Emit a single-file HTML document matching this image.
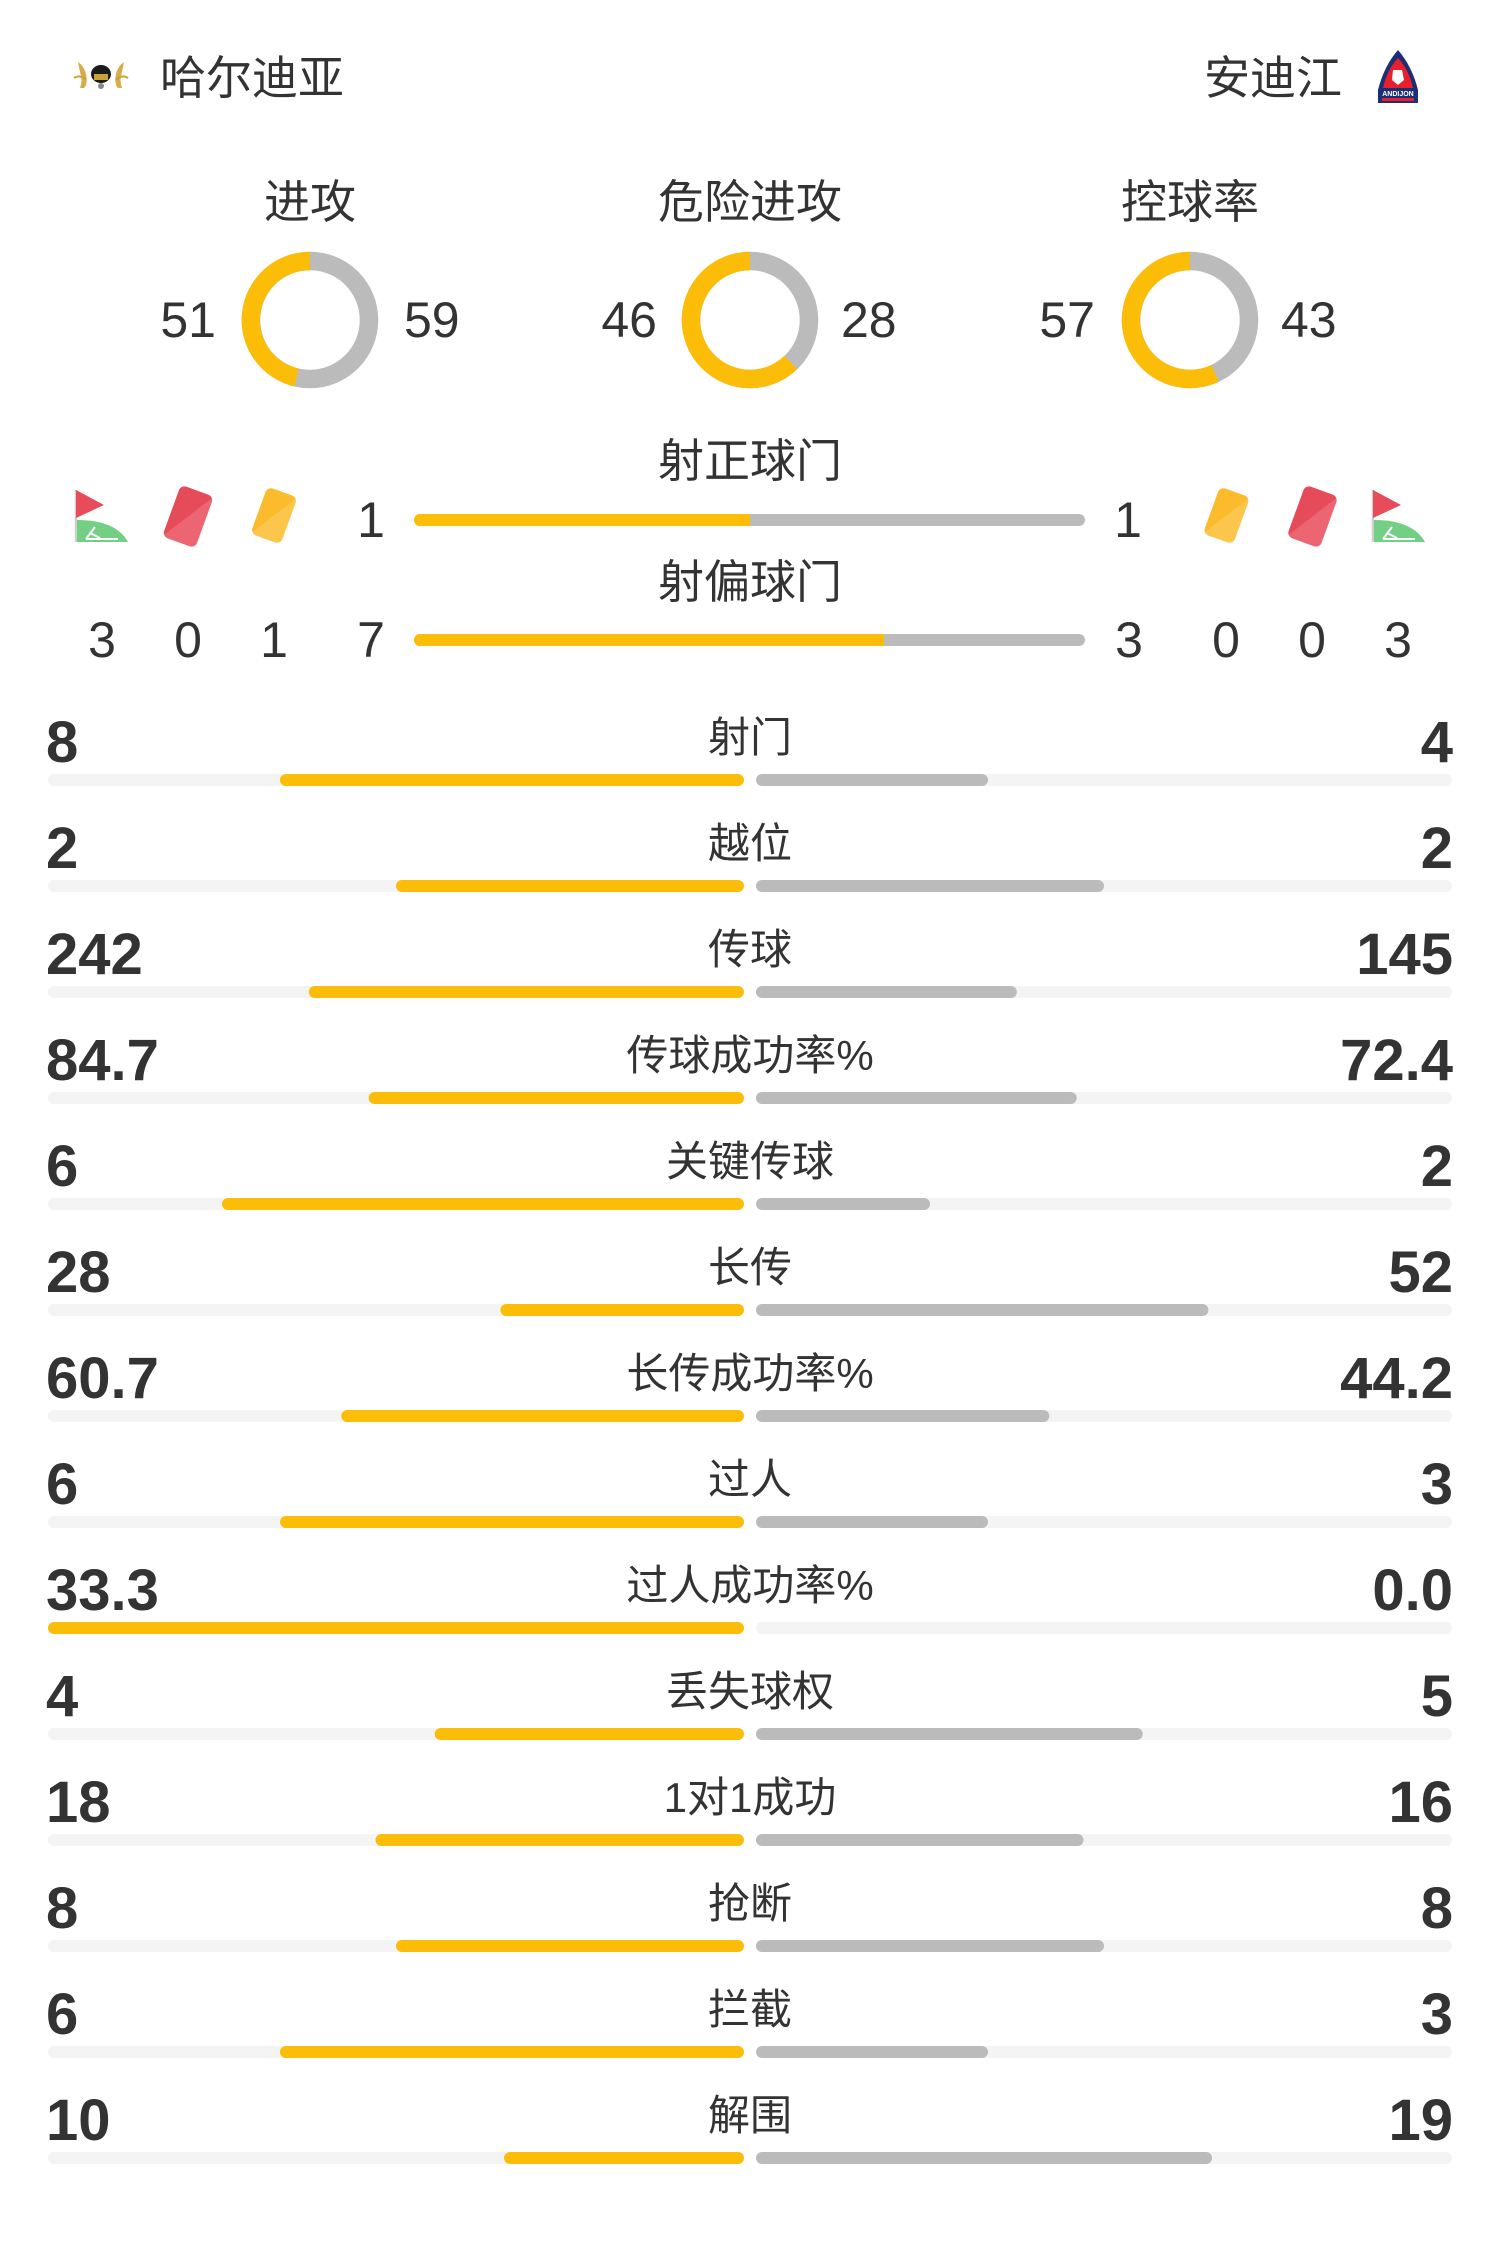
<!DOCTYPE html>
<html>
<head>
<meta charset="utf-8">
<style>
html,body{margin:0;padding:0;background:#fff;}
svg{display:block;}
text{font-family:"Liberation Sans","Noto Sans CJK SC",sans-serif;fill:#333;}
.b{font-weight:bold;font-size:58px;}
.l{font-size:42px;}
.t{font-size:46px;}
.n{font-size:50px;}
</style>
</head>
<body>
<svg width="1500" height="2244" viewBox="0 0 1500 2244" xmlns="http://www.w3.org/2000/svg">
<defs>
<linearGradient id="rg" x1="0" y1="0" x2="1" y2="1">
<stop offset="0.5" stop-color="#e64b5a"/><stop offset="0.5" stop-color="#eb6573"/>
</linearGradient>
<linearGradient id="yg" x1="0" y1="0" x2="1" y2="1">
<stop offset="0.5" stop-color="#fbbb2c"/><stop offset="0.5" stop-color="#fcc64d"/>
</linearGradient>
<g id="flag">
<line x1="76" y1="490" x2="76" y2="542" stroke="#cfcfcf" stroke-width="2.5"/>
<path d="M76,490 L104,505 L76,518 Z" fill="#e84c5a"/>
<path d="M77,542 L77,520 Q116,520 128,542 Z" fill="#72cf84"/>
<path d="M86,539 L118,539 M86,539 L95,527 M90,533 L100,538" stroke="#fff" stroke-width="2" fill="none"/>
</g>
<g id="rcard"><rect x="-17.5" y="-27.5" width="35" height="55" rx="6" fill="url(#rg)"/></g>
<g id="ycard"><rect x="-16" y="-25" width="32" height="50" rx="6" fill="url(#yg)"/></g>
</defs>

<!-- Header -->
<g>
<ellipse cx="101" cy="74" rx="10" ry="9" fill="#1b1b1b"/>
<rect x="94" y="74" width="14" height="6" fill="#c9a23a"/>
<path d="M78,62 Q84,66 86,74 Q88,84 84,88 L80,88 Q83,80 80,72 Z" fill="#d6ad4a"/>
<path d="M124,62 Q118,66 116,74 Q114,84 118,88 L122,88 Q119,80 122,72 Z" fill="#d6ad4a"/>
<path d="M74,78 Q80,74 86,80" stroke="#c9a23a" stroke-width="2" fill="none"/>
<path d="M128,78 Q122,74 116,80" stroke="#c9a23a" stroke-width="2" fill="none"/>
<circle cx="101" cy="86" r="3" fill="#888"/>
</g>
<text class="t" x="160" y="94">哈尔迪亚</text>
<text class="t" x="1342" y="94" text-anchor="end">安迪江</text>
<g>
<path d="M1398,50 Q1412,66 1418,90 L1418,103 L1378,103 L1378,90 Q1384,66 1398,50 Z" fill="#1c2f74"/>
<path d="M1398,58 Q1409,70 1413,88 L1383,88 Q1387,70 1398,58 Z" fill="#e8202b"/>
<path d="M1393,70 L1402,70 L1404,80 L1398,85 L1392,80 Z" fill="#fff"/>
<text x="1398" y="96" text-anchor="middle" style="font-size:7px;font-weight:bold;fill:#fff;">ANDIJON</text>
<rect x="1382" y="98" width="32" height="3" fill="#e8202b"/>
</g>

<!-- Circle section -->
<text class="t" x="310" y="218" text-anchor="middle">进攻</text>
<text class="t" x="750" y="218" text-anchor="middle">危险进攻</text>
<text class="t" x="1190" y="218" text-anchor="middle">控球率</text>

<circle cx="310" cy="320" r="59" fill="none" stroke="#bbbbbb" stroke-width="18.5"/>
<path d="M310,261 A59,59 0 0 0 296.6,377.5" fill="none" stroke="#fcbd08" stroke-width="18.5"/>
<circle cx="750" cy="320" r="59" fill="none" stroke="#bbbbbb" stroke-width="18.5"/>
<path d="M750,261 A59,59 0 1 0 790.8,362.6" fill="none" stroke="#fcbd08" stroke-width="18.5"/>
<circle cx="1190" cy="320" r="59" fill="none" stroke="#bbbbbb" stroke-width="18.5"/>
<path d="M1190,261 A59,59 0 1 0 1215.1,373.4" fill="none" stroke="#fcbd08" stroke-width="18.5"/>

<text class="n" x="216" y="337" text-anchor="end">51</text>
<text class="n" x="404" y="337">59</text>
<text class="n" x="657" y="337" text-anchor="end">46</text>
<text class="n" x="841" y="337">28</text>
<text class="n" x="1095" y="337" text-anchor="end">57</text>
<text class="n" x="1281" y="337">43</text>

<!-- Shots on/off target -->
<text class="t" x="750" y="477" text-anchor="middle">射正球门</text>
<rect x="414" y="514" width="671" height="12" rx="6" fill="#bbbbbb"/>
<rect x="414" y="514" width="336" height="12" rx="6" fill="#fcbd08"/>
<rect x="740" y="514" width="10" height="12" fill="#fcbd08"/>

<text class="t" x="750" y="598" text-anchor="middle">射偏球门</text>
<rect x="414" y="634" width="671" height="12" rx="6" fill="#bbbbbb"/>
<rect x="414" y="634" width="470" height="12" rx="6" fill="#fcbd08"/>
<rect x="874" y="634" width="10" height="12" fill="#fcbd08"/>

<use href="#flag"/>
<use href="#rcard" transform="translate(188,516.5) rotate(20)"/>
<use href="#ycard" transform="translate(274,515.5) rotate(20)"/>
<text class="n" x="371" y="537" text-anchor="middle">1</text>
<text class="n" x="1128" y="537" text-anchor="middle">1</text>
<use href="#ycard" transform="translate(1226.5,515.5) rotate(20)"/>
<use href="#rcard" transform="translate(1312.5,516.5) rotate(20)"/>
<use href="#flag" transform="translate(1297,0)"/>

<text class="n" x="102" y="657" text-anchor="middle">3</text>
<text class="n" x="188" y="657" text-anchor="middle">0</text>
<text class="n" x="274" y="657" text-anchor="middle">1</text>
<text class="n" x="371" y="657" text-anchor="middle">7</text>
<text class="n" x="1129" y="657" text-anchor="middle">3</text>
<text class="n" x="1226" y="657" text-anchor="middle">0</text>
<text class="n" x="1312" y="657" text-anchor="middle">0</text>
<text class="n" x="1398" y="657" text-anchor="middle">3</text>

<!-- Stats rows -->
<g id="rows">
<!-- row 0 y=780 -->
<text class="b" x="46" y="762">8</text><text class="l" x="750" y="752" text-anchor="middle">射门</text><text class="b" x="1453" y="762" text-anchor="end">4</text>
<rect x="48" y="774" width="696" height="12" rx="6" fill="#f4f4f4"/><rect x="756" y="774" width="696" height="12" rx="6" fill="#f4f4f4"/>
<rect x="280" y="774" width="464" height="12" rx="6" fill="#fcbd08"/><rect x="756" y="774" width="232" height="12" rx="6" fill="#bbbbbb"/>

<!-- row 1 y=886 -->
<text class="b" x="46" y="868">2</text><text class="l" x="750" y="858" text-anchor="middle">越位</text><text class="b" x="1453" y="868" text-anchor="end">2</text>
<rect x="48" y="880" width="696" height="12" rx="6" fill="#f4f4f4"/><rect x="756" y="880" width="696" height="12" rx="6" fill="#f4f4f4"/>
<rect x="396" y="880" width="348" height="12" rx="6" fill="#fcbd08"/><rect x="756" y="880" width="348" height="12" rx="6" fill="#bbbbbb"/>

<!-- row 2 y=992 -->
<text class="b" x="46" y="974">242</text><text class="l" x="750" y="964" text-anchor="middle">传球</text><text class="b" x="1453" y="974" text-anchor="end">145</text>
<rect x="48" y="986" width="696" height="12" rx="6" fill="#f4f4f4"/><rect x="756" y="986" width="696" height="12" rx="6" fill="#f4f4f4"/>
<rect x="308.8" y="986" width="435.2" height="12" rx="6" fill="#fcbd08"/><rect x="756" y="986" width="260.8" height="12" rx="6" fill="#bbbbbb"/>

<!-- row 3 y=1098 -->
<text class="b" x="46" y="1080">84.7</text><text class="l" x="750" y="1070" text-anchor="middle">传球成功率%</text><text class="b" x="1453" y="1080" text-anchor="end">72.4</text>
<rect x="48" y="1092" width="696" height="12" rx="6" fill="#f4f4f4"/><rect x="756" y="1092" width="696" height="12" rx="6" fill="#f4f4f4"/>
<rect x="368.7" y="1092" width="375.3" height="12" rx="6" fill="#fcbd08"/><rect x="756" y="1092" width="320.7" height="12" rx="6" fill="#bbbbbb"/>

<!-- row 4 y=1204 -->
<text class="b" x="46" y="1186">6</text><text class="l" x="750" y="1176" text-anchor="middle">关键传球</text><text class="b" x="1453" y="1186" text-anchor="end">2</text>
<rect x="48" y="1198" width="696" height="12" rx="6" fill="#f4f4f4"/><rect x="756" y="1198" width="696" height="12" rx="6" fill="#f4f4f4"/>
<rect x="222" y="1198" width="522" height="12" rx="6" fill="#fcbd08"/><rect x="756" y="1198" width="174" height="12" rx="6" fill="#bbbbbb"/>

<!-- row 5 y=1310 -->
<text class="b" x="46" y="1292">28</text><text class="l" x="750" y="1282" text-anchor="middle">长传</text><text class="b" x="1453" y="1292" text-anchor="end">52</text>
<rect x="48" y="1304" width="696" height="12" rx="6" fill="#f4f4f4"/><rect x="756" y="1304" width="696" height="12" rx="6" fill="#f4f4f4"/>
<rect x="500.4" y="1304" width="243.6" height="12" rx="6" fill="#fcbd08"/><rect x="756" y="1304" width="452.4" height="12" rx="6" fill="#bbbbbb"/>

<!-- row 6 y=1416 -->
<text class="b" x="46" y="1398">60.7</text><text class="l" x="750" y="1388" text-anchor="middle">长传成功率%</text><text class="b" x="1453" y="1398" text-anchor="end">44.2</text>
<rect x="48" y="1410" width="696" height="12" rx="6" fill="#f4f4f4"/><rect x="756" y="1410" width="696" height="12" rx="6" fill="#f4f4f4"/>
<rect x="341.3" y="1410" width="402.7" height="12" rx="6" fill="#fcbd08"/><rect x="756" y="1410" width="293.3" height="12" rx="6" fill="#bbbbbb"/>

<!-- row 7 y=1522 -->
<text class="b" x="46" y="1504">6</text><text class="l" x="750" y="1494" text-anchor="middle">过人</text><text class="b" x="1453" y="1504" text-anchor="end">3</text>
<rect x="48" y="1516" width="696" height="12" rx="6" fill="#f4f4f4"/><rect x="756" y="1516" width="696" height="12" rx="6" fill="#f4f4f4"/>
<rect x="280" y="1516" width="464" height="12" rx="6" fill="#fcbd08"/><rect x="756" y="1516" width="232" height="12" rx="6" fill="#bbbbbb"/>

<!-- row 8 y=1628 -->
<text class="b" x="46" y="1610">33.3</text><text class="l" x="750" y="1600" text-anchor="middle">过人成功率%</text><text class="b" x="1453" y="1610" text-anchor="end">0.0</text>
<rect x="48" y="1622" width="696" height="12" rx="6" fill="#f4f4f4"/><rect x="756" y="1622" width="696" height="12" rx="6" fill="#f4f4f4"/>
<rect x="48" y="1622" width="696" height="12" rx="6" fill="#fcbd08"/>

<!-- row 9 y=1734 -->
<text class="b" x="46" y="1716">4</text><text class="l" x="750" y="1706" text-anchor="middle">丢失球权</text><text class="b" x="1453" y="1716" text-anchor="end">5</text>
<rect x="48" y="1728" width="696" height="12" rx="6" fill="#f4f4f4"/><rect x="756" y="1728" width="696" height="12" rx="6" fill="#f4f4f4"/>
<rect x="434.7" y="1728" width="309.3" height="12" rx="6" fill="#fcbd08"/><rect x="756" y="1728" width="386.7" height="12" rx="6" fill="#bbbbbb"/>

<!-- row 10 y=1840 -->
<text class="b" x="46" y="1822">18</text><text class="l" x="750" y="1812" text-anchor="middle">1对1成功</text><text class="b" x="1453" y="1822" text-anchor="end">16</text>
<rect x="48" y="1834" width="696" height="12" rx="6" fill="#f4f4f4"/><rect x="756" y="1834" width="696" height="12" rx="6" fill="#f4f4f4"/>
<rect x="375.5" y="1834" width="368.5" height="12" rx="6" fill="#fcbd08"/><rect x="756" y="1834" width="327.5" height="12" rx="6" fill="#bbbbbb"/>

<!-- row 11 y=1946 -->
<text class="b" x="46" y="1928">8</text><text class="l" x="750" y="1918" text-anchor="middle">抢断</text><text class="b" x="1453" y="1928" text-anchor="end">8</text>
<rect x="48" y="1940" width="696" height="12" rx="6" fill="#f4f4f4"/><rect x="756" y="1940" width="696" height="12" rx="6" fill="#f4f4f4"/>
<rect x="396" y="1940" width="348" height="12" rx="6" fill="#fcbd08"/><rect x="756" y="1940" width="348" height="12" rx="6" fill="#bbbbbb"/>

<!-- row 12 y=2052 -->
<text class="b" x="46" y="2034">6</text><text class="l" x="750" y="2024" text-anchor="middle">拦截</text><text class="b" x="1453" y="2034" text-anchor="end">3</text>
<rect x="48" y="2046" width="696" height="12" rx="6" fill="#f4f4f4"/><rect x="756" y="2046" width="696" height="12" rx="6" fill="#f4f4f4"/>
<rect x="280" y="2046" width="464" height="12" rx="6" fill="#fcbd08"/><rect x="756" y="2046" width="232" height="12" rx="6" fill="#bbbbbb"/>

<!-- row 13 y=2158 -->
<text class="b" x="46" y="2140">10</text><text class="l" x="750" y="2130" text-anchor="middle">解围</text><text class="b" x="1453" y="2140" text-anchor="end">19</text>
<rect x="48" y="2152" width="696" height="12" rx="6" fill="#f4f4f4"/><rect x="756" y="2152" width="696" height="12" rx="6" fill="#f4f4f4"/>
<rect x="504" y="2152" width="240" height="12" rx="6" fill="#fcbd08"/><rect x="756" y="2152" width="456" height="12" rx="6" fill="#bbbbbb"/>
</g>
</svg>
</body>
</html>
